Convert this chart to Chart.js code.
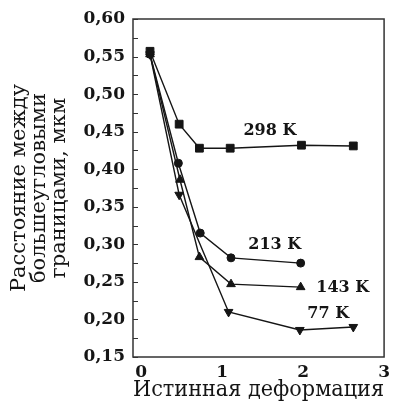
<!DOCTYPE html>
<html lang="ru">
<head>
<meta charset="UTF-8">
<title>Расстояние между границами</title>
<style>
  html, body { margin: 0; padding: 0; background: #fff; }
  canvas { display: block; }
</style>
</head>
<body>
<canvas id="myChart" width="395" height="408"></canvas>
<script src="https://cdn.jsdelivr.net/npm/chart.js"></script>
<script>
// данные
const strain298 = [0.11, 0.47, 0.72, 1.10, 1.98, 2.62];
const dist298   = [0.557, 0.460, 0.428, 0.428, 0.432, 0.431];
const strain213 = [0.11, 0.46, 0.73, 1.11, 1.97];
const dist213   = [0.553, 0.408, 0.315, 0.282, 0.275];
const strain143 = [0.11, 0.48, 0.72, 1.11, 1.97];
const dist143   = [0.553, 0.386, 0.283, 0.247, 0.243];
const strain77  = [0.11, 0.47, 1.08, 1.96, 2.62];
const dist77    = [0.553, 0.366, 0.210, 0.186, 0.190];

const seriesNames = ['298 K', '213 K', '143 K', '77 K'];
const seriesMarks = ['rect', 'circle', 'triangle', 'triangle'];
const labelX = [1.59, 1.65, 2.49, 2.31];
const labelY = [0.451, 0.299, 0.242, 0.208];

const yTicks = [0.15, 0.20, 0.25, 0.30, 0.35, 0.40, 0.45, 0.50, 0.55, 0.60];
const xTicks = [0, 1, 2, 3];

const ink = '#151515';
const serif = "'DejaVu Serif', serif";

function toPoints(xs, ys) {
  return xs.map((x, i) => ({ x: x, y: ys[i] }));
}

const allX = [strain298, strain213, strain143, strain77];
const allY = [dist298, dist213, dist143, dist77];

let datasets = [];
for (let i = 0; i < seriesNames.length; i++) {
  datasets.push({
    label: seriesNames[i],
    data: toPoints(allX[i], allY[i]),
    showLine: true,
    borderColor: ink,
    borderWidth: 1.4,
    backgroundColor: ink,
    pointBackgroundColor: ink,
    pointBorderColor: ink,
    pointStyle: seriesMarks[i],
    pointRotation: i === 3 ? 180 : 0,
    pointRadius: i === 0 ? 5.5 : (i === 1 ? 4 : 5),
    pointBorderWidth: 1
  });
}

// рамка, внутренние засечки и подписи кривых
const decor = {
  id: 'decor',
  afterDatasetsDraw(chart) {
    const c = chart.ctx;
    const a = chart.chartArea;
    const ys = chart.scales.y;
    const xs = chart.scales.x;
    c.save();
    c.strokeStyle = '#333';
    c.lineWidth = 1.5;
    c.strokeRect(a.left, a.top, a.right - a.left, a.bottom - a.top);
    c.lineWidth = 1;
    for (let v = 0.15; v <= 0.6001; v += 0.025) {
      const py = Math.round(ys.getPixelForValue(v)) + 0.5;
      c.beginPath();
      c.moveTo(a.left, py);
      c.lineTo(a.left + 5, py);
      c.stroke();
    }
    c.fillStyle = ink;
    c.font = 'bold 16px ' + serif;
    c.textAlign = 'center';
    c.textBaseline = 'middle';
    for (let i = 0; i < seriesNames.length; i++) {
      c.fillText(seriesNames[i], xs.getPixelForValue(labelX[i]), ys.getPixelForValue(labelY[i]));
    }
    c.restore();
  }
};

const ctx = document.getElementById('myChart');
let myChart = new Chart(ctx, {
  type: 'scatter',
  data: { datasets: datasets },
  options: {
    responsive: false,
    animation: false,
    layout: { padding: { left: 0, top: 19, right: 7, bottom: 0 } },
    plugins: { legend: { display: false }, tooltip: { enabled: false } },
    scales: {
      x: {
        type: 'linear',
        min: -0.1,
        max: 3,
        afterBuildTicks(scale) { scale.ticks = xTicks.map(v => ({ value: v })); },
        afterFit(scale) { scale.height = 51; },
        grid: { display: false, drawTicks: false },
        border: { display: false },
        ticks: {
          padding: 5,
          color: ink,
          font: { family: serif, size: 17, weight: 'bold' },
          callback: v => String(v)
        },
        title: {
          display: true,
          text: 'Истинная деформация',
          color: ink,
          font: { family: serif, size: 23, lineHeight: 1.0 },
          padding: { top: 0, bottom: 6 }
        }
      },
      y: {
        min: 0.15,
        max: 0.60,
        afterBuildTicks(scale) { scale.ticks = yTicks.map(v => ({ value: v })); },
        afterFit(scale) { scale.width = 133; },
        grid: { display: false, drawTicks: false },
        border: { display: false },
        ticks: {
          padding: 8,
          color: ink,
          font: { family: serif, size: 17, weight: 'bold' },
          callback: v => v.toFixed(2).replace('.', ',')
        },
        title: {
          display: true,
          text: ['Расстояние между', 'большеугловыми', 'границами, мкм'],
          color: ink,
          font: { family: serif, size: 21, lineHeight: 0.95 },
          padding: { top: 10, bottom: 0 }
        }
      }
    }
  },
  plugins: [decor]
});
</script>
</body>
</html>
